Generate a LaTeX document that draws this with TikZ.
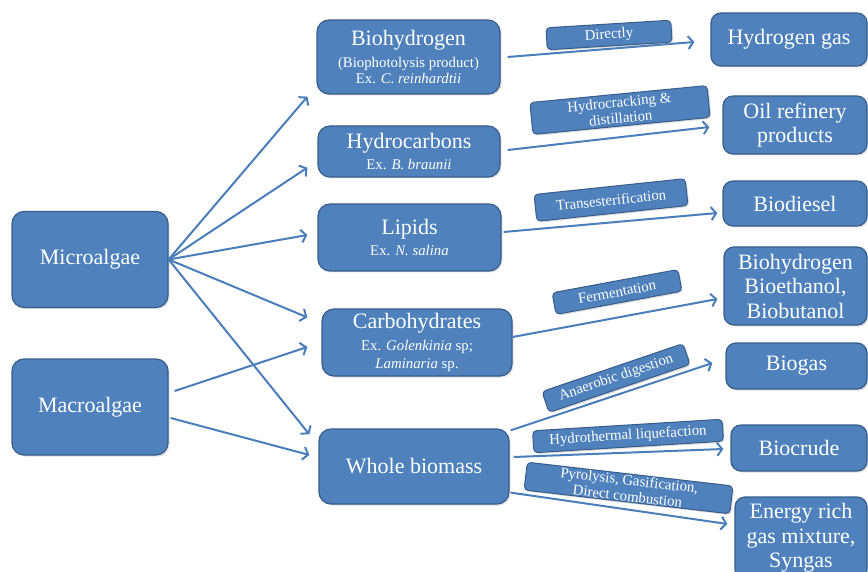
\documentclass[tikz,border=0pt]{standalone}
\usepackage{fontspec}
\setmainfont{Liberation Serif}
\usetikzlibrary{arrows.meta,shadows}
\definecolor{boxblue}{HTML}{4F81BD}
\definecolor{boxline}{HTML}{385D8A}
\definecolor{flowblue}{HTML}{4A7EBB}
\newcommand{\bigsz}{\fontsize{22}{24.5}\selectfont}
\newcommand{\smsz}{\fontsize{14.8}{16}\selectfont}
\tikzset{>={Straight Barb[length=5pt,width=13pt]},
algae/.style={draw=boxline, line width=1.2pt, fill=boxblue, text=white,
  rounded corners=12pt, align=center, inner sep=0pt, font=\bigsz,
  drop shadow={opacity=0.25,shadow xshift=1.5pt,shadow yshift=-1.5pt}},
proc/.style={algae, rounded corners=4pt, font=\smsz, line width=1pt},
flow/.style={->, draw=flowblue, line width=2pt}}

\begin{document}
\begin{tikzpicture}[x=1pt,y=-1pt]
  \useasboundingbox (0,0) rectangle (868,572);
  \node[algae, minimum width=156pt, minimum height=96pt] (micro) at (90,259.5) {Microalgae};
  \node[algae, minimum width=156pt, minimum height=96pt] (macro) at (90,407) {Macroalgae};

  \node[algae, minimum width=183pt, minimum height=74pt] (bhyd) at (408.5,57)
    {Biohydrogen\\[-3pt] \smsz (Biophotolysis product)\\[-8pt] \smsz Ex. \textit{C. reinhardtii}};
  \node[algae, minimum width=182pt, minimum height=51pt] (hcarb) at (409,151.5)
    {Hydrocarbons\\[-3pt] \smsz Ex. \textit{B. braunii}};
  \node[algae, minimum width=183pt, minimum height=67pt] (lip) at (409.5,237.5)
    {Lipids\\[-3pt] \smsz Ex. \textit{N. salina}};
  \node[algae, minimum width=190pt, minimum height=67pt] (carb) at (417,342.5)
    {Carbohydrates\\[-3pt] \smsz Ex. \textit{Golenkinia} sp;\\[-6pt] \smsz \textit{Laminaria} sp.};
  \node[algae, minimum width=190pt, minimum height=75pt] (whole) at (414,466.5) {Whole biomass};

  \node[algae, rounded corners=10pt, minimum width=156pt, minimum height=53pt] (h2gas) at (789,39.5) {Hydrogen gas};
  \node[algae, rounded corners=10pt, minimum width=144pt, minimum height=58pt] (oil) at (795,125) {Oil refinery\\ products};
  \node[algae, rounded corners=10pt, minimum width=144pt, minimum height=45pt] (diesel) at (795,203.5) {Biodiesel};
  \node[algae, rounded corners=10pt, minimum width=143pt, minimum height=78pt] (alcohol) at (795.5,286)
    {Biohydrogen\\ Bioethanol,\\ Biobutanol};
  \node[algae, rounded corners=10pt, minimum width=141pt, minimum height=46pt] (biogas) at (796.5,366) {Biogas};
  \node[algae, rounded corners=10pt, minimum width=136pt, minimum height=46pt] (crude) at (799,448) {Biocrude};
  \node[algae, rounded corners=10pt, minimum width=132pt, minimum height=82pt] (syngas) at (801,538)
    {Energy rich\\ gas mixture,\\ Syngas};

  \foreach \t/\dx/\dy in {bhyd.south west/-9/2, hcarb.south west/-10/-10, lip.west/-10/-2.5,
      carb.north west/-14/9, whole.north west/-9/6}
    \draw[flow] (micro.east) -- ([shift={(\dx,\dy)}]\t);
  \draw[flow] ([shift={(6,-16)}]macro.east) -- ([shift={(-14,4.5)}]carb.west);
  \draw[flow] ([shift={(2,11)}]macro.east) -- ([shift={(-9,-11.5)}]whole.west);

  \draw[flow] ([shift={(7,0)}]bhyd.east) -- ([shift={(-16,2.5)}]h2gas.west);
  \draw[flow] ([shift={(7,-1.5)}]hcarb.east) -- ([shift={(-13,2)}]oil.west);
  \draw[flow] ([shift={(2,-5.5)}]lip.east) -- ([shift={(-5,9.5)}]diesel.west);
  \draw[flow] ([shift={(0,-5.5)}]carb.east) -- ([shift={(-6,13)}]alcohol.west);
  \draw[flow] ([shift={(1,2)}]whole.north east) -- ([shift={(-13,-3)}]biogas.west);
  \draw[flow] ([shift={(4,-9.5)}]whole.east) -- ([shift={(-7,1)}]crude.west);
  \draw[flow] ([shift={(1,-12)}]whole.south east) -- ([shift={(-7,-14)}]syngas.west);

  \node[proc, rotate=3.5, minimum width=125pt, minimum height=22pt] (direct) at (609,35) {Directly};
  \node[proc, rotate=5.5, minimum width=178pt, minimum height=32pt] (crack) at (620,110)
    {Hydrocracking \&\\ distillation};
  \node[proc, rotate=6, minimum width=152pt, minimum height=27pt] (trans) at (611,200) {Transesterification};
  \node[proc, rotate=10.5, minimum width=128pt, minimum height=22pt] (ferm) at (617,292) {Fermentation};
  \node[proc, rotate=18.8, minimum width=149pt, minimum height=22pt] (anaer) at (616,378) {Anaerobic digestion};
  \node[proc, rotate=3.5, minimum width=190pt, minimum height=22pt] (htl) at (628,436) {Hydrothermal liquefaction};
  \node[proc, rotate=-6.6, minimum width=207pt, minimum height=28pt] (pyro) at (628.5,488)
    {Pyrolysis, Gasification,\\ Direct combustion};
\end{tikzpicture}
\end{document}
